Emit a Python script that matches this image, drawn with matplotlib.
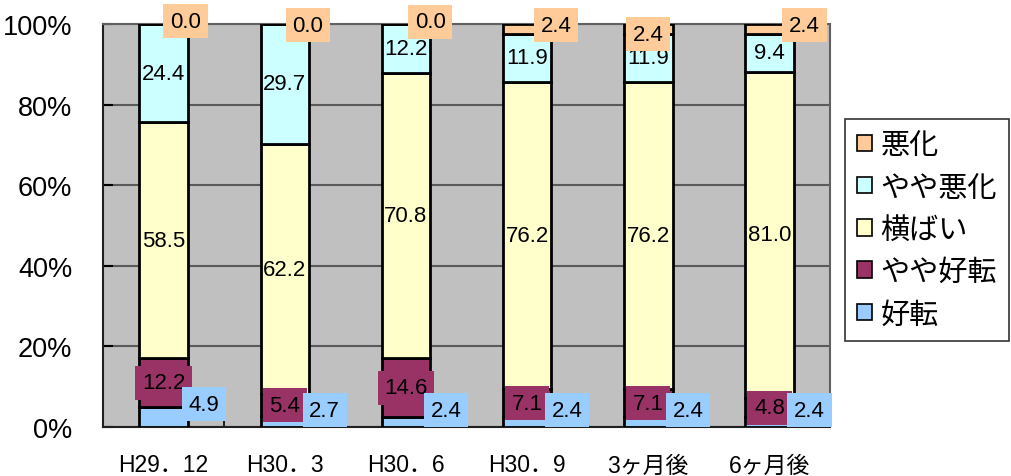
import matplotlib
matplotlib.use("Agg")
import matplotlib.pyplot as plt
import numpy as np
from matplotlib.patches import Patch

plt.rcParams['font.family'] = ['Liberation Sans', 'Noto Sans CJK JP']

categories = ['H29．12', 'H30．3', 'H30．6', 'H30．9', '3ヶ月後', '6ヶ月後']
series_names = ['好転', 'やや好転', '横ばい', 'やや悪化', '悪化']
kouten = [4.9, 2.7, 2.4, 2.4, 2.4, 2.4]
yaya_kouten = [12.2, 5.4, 14.6, 7.1, 7.1, 4.8]
yokobai = [58.5, 62.2, 70.8, 76.2, 76.2, 81.0]
yaya_akka = [24.4, 29.7, 12.2, 11.9, 11.9, 9.4]
akka = [0.0, 0.0, 0.0, 2.4, 2.4, 2.4]

colors = ['#99CCFF', '#993366', '#FFFFCC', '#CCFFFF', '#FFCC99']
series = [kouten, yaya_kouten, yokobai, yaya_akka, akka]

# label placement (style)
akka_dx = [0.18, 0.19, 0.20, 0.24, 0.0, 0.29]
akka_y = [100.7, 99.7, 100.5, 99.7, 97.5, 99.7]
kouten_dx = 0.33

fig = plt.figure(figsize=(10.11, 4.77), dpi=100)
ax = fig.add_axes([0.1019, 0.1027, 0.7191, 0.8449])
ax.set_facecolor('#C0C0C0')

x = np.arange(len(categories))
width = 0.4
bottom = np.zeros(len(categories))
for vals, c in zip(series, colors):
    ax.bar(x, vals, width, bottom=bottom, color=c, edgecolor='black', linewidth=2, zorder=3)
    bottom += np.array(vals)

ax.set_xlim(-0.5, len(categories) - 0.5)
ax.set_ylim(0, 100)
ax.set_yticks([0, 20, 40, 60, 80, 100])
ax.set_yticklabels(['0%', '20%', '40%', '60%', '80%', '100%'], fontsize=19.5)
ax.yaxis.grid(True, color='#5a5a5a', linewidth=1.5, zorder=1)
ax.set_axisbelow(True)
ax.set_xticks(x)
ax.set_xticklabels(categories, fontsize=16.5)
ax.set_xticks(np.arange(-0.5, len(categories)), minor=True)
ax.tick_params(axis='x', which='major', length=0, pad=19)
ax.tick_params(axis='x', which='minor', direction='in', length=5, color='black', width=1.2)
ax.tick_params(axis='y', direction='in', length=7, color='black', width=1.5, pad=22)
for s in ax.spines.values():
    s.set_color('#606060')
    s.set_linewidth(1.5)
ax.spines['left'].set_color('#202020')
ax.spines['bottom'].set_color('#202020')

fs = 16
for i in range(len(categories)):
    b0 = kouten[i]
    b1 = b0 + yaya_kouten[i]
    b2 = b1 + yokobai[i]
    b3 = b2 + yaya_akka[i]
    # 横ばい
    ax.text(i, (b1 + b2) / 2, f'{yokobai[i]:.1f}', ha='center', va='center', fontsize=fs, zorder=5)
    # やや悪化
    ax.text(i, (b2 + b3) / 2, f'{yaya_akka[i]:.1f}', ha='center', va='center', fontsize=fs, zorder=5)
    # やや好転
    ax.text(i, (b0 + b1) / 2, f'{yaya_kouten[i]:.1f}', ha='center', va='center', fontsize=fs, zorder=6,
            bbox=dict(boxstyle='square,pad=0.3', facecolor='#993366', edgecolor='none'))
    # 好転
    ax.text(i + kouten_dx, max(4.2, b0 + 0.8), f'{kouten[i]:.1f}', ha='center', va='center', fontsize=fs,
            zorder=7, clip_on=False,
            bbox=dict(boxstyle='square,pad=0.3', facecolor='#99CCFF', edgecolor='none'))
    # 悪化
    ax.text(i + akka_dx[i], akka_y[i], f'{akka[i]:.1f}', ha='center', va='center', fontsize=fs,
            zorder=7, clip_on=False,
            bbox=dict(boxstyle='square,pad=0.3', facecolor='#FFCC99', edgecolor='none'))

handles = [Patch(facecolor=c, edgecolor='black', linewidth=1.2) for c in colors[::-1]]
leg = fig.legend(handles, series_names[::-1], loc='upper left',
                 bbox_to_anchor=(845 / 1011, 1 - 120 / 477), fontsize=21,
                 frameon=True, fancybox=False, edgecolor='black',
                 handlelength=0.5, handleheight=0.5, handletextpad=0.3,
                 labelspacing=0.49, borderpad=0.42, borderaxespad=0)
leg.get_frame().set_linewidth(1.2)

fig.savefig('out.png', dpi=100)
